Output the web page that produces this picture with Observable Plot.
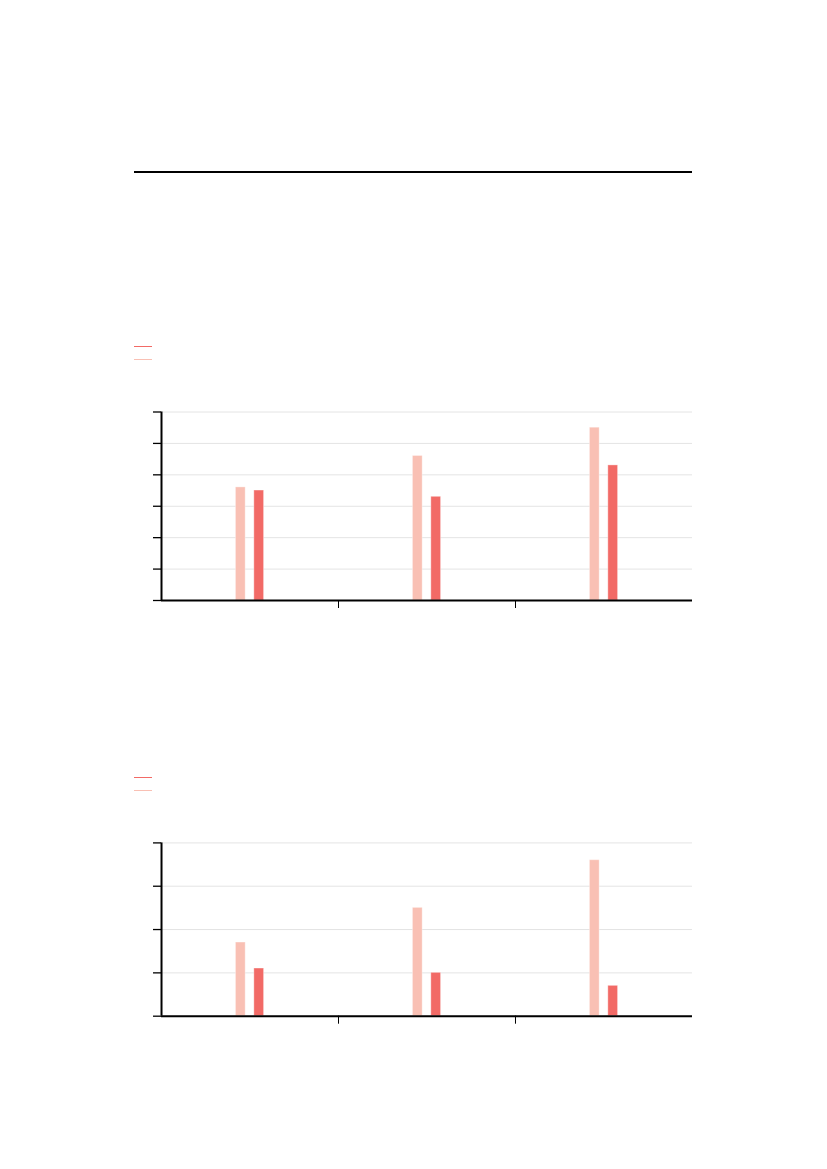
<!DOCTYPE html>
<html>
<head>
<meta charset="utf-8">
<script src="https://cdn.jsdelivr.net/npm/d3@7"></script>
<script src="https://cdn.jsdelivr.net/npm/@observablehq/plot@0.6"></script>
<style>
  html, body { margin: 0; padding: 0; background: #fff; font-family: "Liberation Sans", Arial, sans-serif; }
  #page { position: relative; width: 827px; height: 1169px; }
  .rule { position: absolute; left: 134px; top: 171px; width: 558px; height: 2px; background: #000; }
  .legend { position: absolute; left: 134px; }
  .sw { position: absolute; left: 0; width: 18px; height: 1.3px; }
  .chart { position: absolute; left: 134px; }
  .chart svg { display: block; }
</style>
</head>
<body>
<div id="page">
  <div class="rule"></div>
  <div class="legend" id="leg1" style="top:345.5px"></div>
  <div class="chart" id="chart1" style="top:400px"></div>
  <div class="legend" id="leg2" style="top:776.5px"></div>
  <div class="chart" id="chart2" style="top:830px"></div>
</div>
<script>
// ---- data ----
const groups = [0, 1, 2];
const chart1Light = [3.6, 4.6, 5.5];
const chart1Dark = [3.5, 3.3, 4.3];
const chart2Light = [1.7, 2.5, 3.6];
const chart2Dark = [1.1, 1.0, 0.7];
const chart1YTicks = [0, 1, 2, 3, 4, 5, 6];
const chart2YTicks = [0, 1, 2, 3, 4];
const xTicks = [1, 2];
const seriesKeys = ["light", "dark"];

// ---- styles ----
const colors = {light: "#f9c0b4", dark: "#f26a66"};
const legendOrder = ["dark", "light"];

function legend(el) {
  legendOrder.forEach((k, i) => {
    const d = document.createElement("div");
    d.className = "sw";
    d.style.top = (i * 13) + "px";
    d.style.background = colors[k];
    el.appendChild(d);
  });
}

function chart(el, light, dark, yTicks, plotH, mTop) {
  const rows = [];
  groups.forEach((g, i) => {
    rows.push({g, s: "light", v: light[i]});
    rows.push({g, s: "dark", v: dark[i]});
  });
  const off = {light: -0.052, dark: 0.052};
  const bw = 0.055;
  const mBottom = 14;
  const yMax = yTicks[yTicks.length - 1];
  const p = Plot.plot({
    width: 558,
    height: mTop + plotH + mBottom,
    marginLeft: 27,
    marginRight: 0,
    marginTop: mTop,
    marginBottom: mBottom,
    x: {domain: [0, groups.length], axis: null},
    y: {domain: [0, yMax], axis: null},
    marks: [
      Plot.gridY(yTicks, {stroke: "#e4e4e4", strokeOpacity: 1, strokeWidth: 1}),
      Plot.rectY(rows, {
        x1: d => d.g + 0.5 + off[d.s] - bw / 2,
        x2: d => d.g + 0.5 + off[d.s] + bw / 2,
        y: "v",
        fill: d => colors[d.s],
        stroke: "#fff",
        strokeOpacity: 0.35,
        strokeWidth: 1
      }),
      Plot.axisY(yTicks, {tickSize: 8, tickFormat: () => "", stroke: "#000", strokeWidth: 1.3, label: null}),
      Plot.axisX(xTicks, {tickSize: 8, tickFormat: () => "", stroke: "#000", strokeWidth: 1, label: null}),
      Plot.ruleX([0], {y1: 0, y2: yMax, stroke: "#000", strokeWidth: 2}),
      Plot.ruleY([0], {stroke: "#000", strokeWidth: 2})
    ]
  });
  el.appendChild(p);
}

legend(document.getElementById("leg1"));
legend(document.getElementById("leg2"));
chart(document.getElementById("chart1"), chart1Light, chart1Dark, chart1YTicks, 188.5, 11.5);
chart(document.getElementById("chart2"), chart2Light, chart2Dark, chart2YTicks, 173.3, 12.4);
</script>
</body>
</html>
